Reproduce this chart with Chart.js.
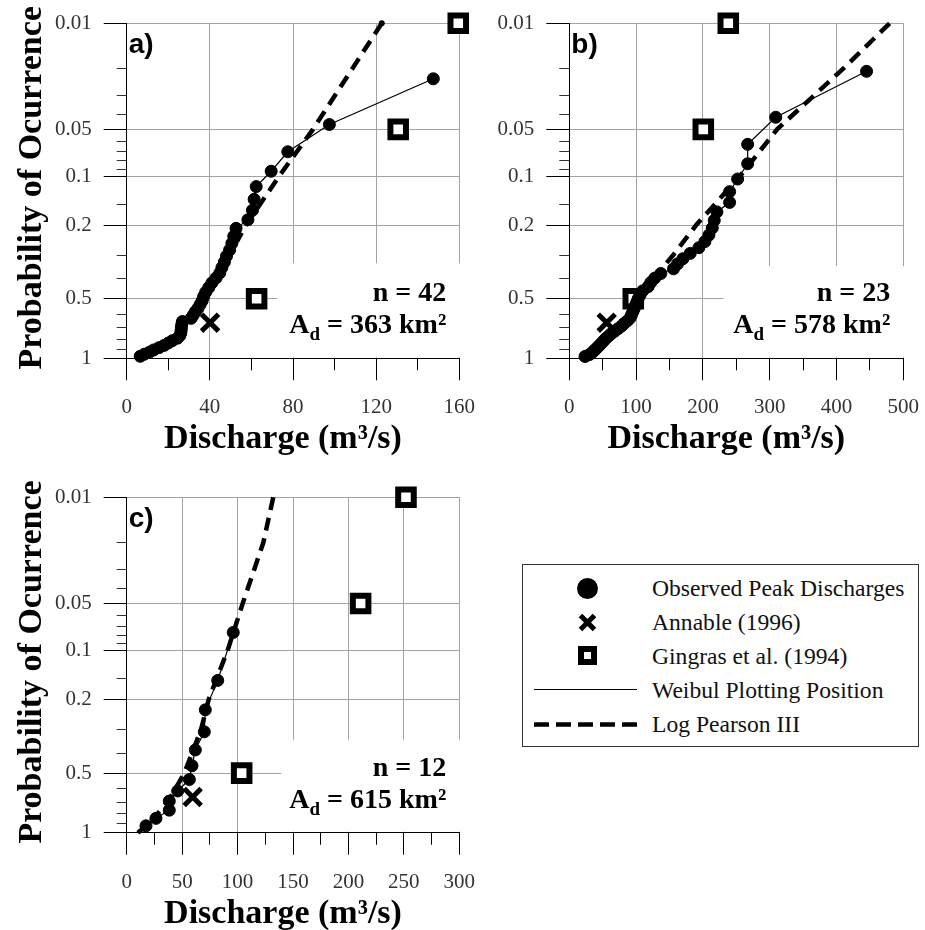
<!DOCTYPE html>
<html><head><meta charset="utf-8">
<script src="https://cdn.jsdelivr.net/npm/chart.js"></script>
<style>
html,body{margin:0;padding:0;background:#fff;}
body{width:925px;height:930px;overflow:hidden;position:relative;}
canvas{position:absolute;}
.lg{position:absolute;}
.lgt{position:absolute;left:652px;font-family:'Liberation Serif',serif;font-size:23.6px;line-height:26px;color:#111;white-space:nowrap;}
</style></head><body>
<canvas id="ca" width="490" height="460" style="left:0;top:0"></canvas>
<canvas id="cb" width="465" height="460" style="left:460px;top:0"></canvas>
<canvas id="cc" width="490" height="470" style="left:0;top:460px"></canvas>

<div class="lg" style="left:522px;top:564px;width:397px;height:183px;border:1px solid #333;box-sizing:border-box;"></div>
<div class="lg" style="left:577px;top:578px;width:21px;height:21px;border-radius:50%;background:#000;"></div>
<svg class="lg" style="left:577px;top:612px" width="21" height="21"><path d="M3.5 3.5 L17.5 17.5 M17.5 3.5 L3.5 17.5" stroke="#000" stroke-width="5" fill="none"/></svg>
<div class="lg" style="left:578px;top:646px;width:19px;height:19px;border:6px solid #000;background:#fff;box-sizing:border-box;"></div>
<div class="lg" style="left:534px;top:689px;width:103px;height:1.4px;background:#000;"></div>
<svg class="lg" style="left:534px;top:721px" width="104" height="7"><line x1="0" y1="3.5" x2="104" y2="3.5" stroke="#000" stroke-width="4.5" stroke-dasharray="15 7"/></svg>
<div class="lgt" id="lg0" style="top:575px"></div>
<div class="lgt" id="lg1" style="top:609px"></div>
<div class="lgt" id="lg2" style="top:643px"></div>
<div class="lgt" id="lg3" style="top:677px"></div>
<div class="lgt" id="lg4" style="top:711px"></div>

<script>
// ---------- data ----------
const yTickProbs = [0.01, 0.05, 0.1, 0.2, 0.5, 1];
const yTickLabels = ['0.01', '0.05', '0.1', '0.2', '0.5', '1'];
const yMinorProbs = [0.02, 0.03, 0.04, 0.06, 0.07, 0.08, 0.09, 0.15, 0.3, 0.4, 0.6, 0.7, 0.8, 0.9];

const aXMajor = [0, 40, 80, 120, 160];
const aXMinor = [20, 60, 100, 140];
const bXMajor = [0, 100, 200, 300, 400, 500];
const bXMinor = [50, 150, 250, 350, 450];
const cXMajor = [0, 50, 100, 150, 200, 250, 300];
const cXMinor = [25, 75, 125, 175, 225, 275];

// Panel a: observed peak discharges (m3/s) and Weibull plotting positions
const aObsQ = [147.5, 97.5, 77.5, 69.5, 62.3, 61.3, 60.5, 58.3, 52.6, 51.5, 50.6, 49.5, 48.0, 47.0, 45.8, 44.8, 43.0, 41.0, 39.5, 38.0, 37.0, 36.3, 35.3, 34.3, 33.0, 32.0, 31.0, 26.8, 26.5, 26.3, 26.2, 26.0, 25.6, 24.5, 22.0, 20.0, 18.0, 15.5, 13.0, 11.0, 8.5, 6.5];
const aObsP = [0.0233, 0.0465, 0.0698, 0.0930, 0.1163, 0.1395, 0.1628, 0.1860, 0.2093, 0.2326, 0.2558, 0.2791, 0.3023, 0.3256, 0.3488, 0.3721, 0.3953, 0.4186, 0.4419, 0.4651, 0.4884, 0.5116, 0.5349, 0.5581, 0.5814, 0.6047, 0.6279, 0.6512, 0.6744, 0.6977, 0.7209, 0.7442, 0.7674, 0.7907, 0.8140, 0.8372, 0.8605, 0.8837, 0.9070, 0.9302, 0.9535, 0.9767];
const aLp3Q = [122.7, 89.6, 73.3, 57.4, 53.0];
const aLp3P = [0.01, 0.05, 0.1, 0.2, 0.25];
const aGingQ = [159.5, 130.6, 62.5];
const aGingP = [0.01, 0.05, 0.5];
const aAnnQ = [40.1];
const aAnnP = [0.66];

// Panel b
const bObsQ = [445, 309, 267, 267, 252, 240, 240, 221, 217, 214, 209, 203, 194, 181, 170, 162, 156, 137, 128, 122, 118, 110, 106, 103, 101, 99, 97, 95, 93, 91, 87, 82, 78, 73, 68, 63, 59, 55, 52, 49, 46, 43, 40, 37, 34, 30, 23.5];
const bObsP = [0.0208, 0.0417, 0.0625, 0.0833, 0.1042, 0.125, 0.1458, 0.1667, 0.1875, 0.2083, 0.2292, 0.25, 0.2708, 0.2917, 0.3125, 0.3333, 0.3542, 0.375, 0.3958, 0.4167, 0.4375, 0.4583, 0.4792, 0.5, 0.5208, 0.5417, 0.5625, 0.5833, 0.6042, 0.625, 0.6458, 0.6667, 0.6875, 0.7083, 0.7292, 0.75, 0.7708, 0.7917, 0.8125, 0.8333, 0.8542, 0.875, 0.8958, 0.9167, 0.9375, 0.9583, 0.9792];
const bLp3Q = [479.5, 410, 311, 255.5, 190, 155, 100];
const bLp3P = [0.01, 0.02, 0.05, 0.1, 0.2, 0.3, 0.5];
const bGingQ = [238, 200.6, 95.8];
const bGingP = [0.01, 0.05, 0.5];
const bAnnQ = [56];
const bAnnP = [0.66];

// Panel c
const cObsQ = [96.1, 82.1, 70.9, 70.0, 61.9, 58.9, 56.5, 46.0, 38.4, 38.4, 26.4, 17.4];
const cObsP = [0.0769, 0.1538, 0.2308, 0.3077, 0.3846, 0.4615, 0.5385, 0.6154, 0.6923, 0.7692, 0.8462, 0.9231];
const cLp3Q = [132.2, 123.2, 104.6, 91, 74, 67, 52, 37, 20, 10];
const cLp3P = [0.01, 0.02, 0.05, 0.1, 0.2, 0.3, 0.5, 0.7, 0.9, 1.0];
const cGingQ = [251.9, 211, 103.7];
const cGingP = [0.01, 0.05, 0.5];
const cAnnQ = [59.5];
const cAnnP = [0.66];

const panelLetters = ['a)', 'b)', 'c)'];
const nTexts = ['n = 42', 'n = 23', 'n = 12'];
const areaTexts = [' = 363 km²', ' = 578 km²', ' = 615 km²'];
const xTitle = 'Discharge (m³/s)';
const yTitle = 'Probability of Ocurrence';
const legendLabels = ['Observed Peak Discharges', 'Annable (1996)', 'Gingras et al. (1994)', 'Weibul Plotting Position', 'Log Pearson III'];

// ---------- probability axis transform ----------
const GUMBEL_HALF = -Math.log(Math.log(2));
const LOWER_SLOPE = 3.037;
function probToAxis(p) {
  return p <= 0.5 ? -Math.log(-Math.log(1 - p)) : GUMBEL_HALF - LOWER_SLOPE * Math.log10(p / 0.5);
}
function pts(qs, ps) { return qs.map((q, i) => ({x: q, y: probToAxis(ps[i])})); }

legendLabels.forEach((t, i) => { document.getElementById('lg' + i).textContent = t; });

const SERIF = "'Liberation Serif', 'Times New Roman', serif";
const GRID = '#a3a3a3';

function annotatePlugin(cfg) {
  return {
    id: 'annot',
    beforeDatasetsDraw(chart) {
      const {ctx, chartArea: ca} = chart;
      ctx.save();
      ctx.fillStyle = '#fff';
      ctx.fillRect(ca.right - cfg.boxW, ca.bottom - cfg.boxH, cfg.boxW + 1.5, cfg.boxH - 1);
      ctx.restore();
    },
    afterDatasetsDraw(chart) {
      const {ctx, chartArea: ca} = chart;
      ctx.save();
      ctx.fillStyle = '#000';
      ctx.textBaseline = 'alphabetic';
      ctx.font = "bold 28px 'Liberation Sans', Arial, sans-serif";
      ctx.textAlign = 'left';
      ctx.fillText(cfg.letter, ca.left + 2, ca.top + 30);
      const rx = ca.right - 13;
      const big = 'bold 28px ' + SERIF, small = 'bold 19px ' + SERIF;
      ctx.font = big;
      ctx.textAlign = 'right';
      ctx.fillText(cfg.nText, rx, ca.bottom - 57);
      const wRest = ctx.measureText(cfg.areaText).width;
      const wA = ctx.measureText('A').width;
      ctx.font = small;
      const wd = ctx.measureText('d').width;
      const x0 = rx - wRest - wd - wA;
      ctx.textAlign = 'left';
      ctx.font = big; ctx.fillText('A', x0, ca.bottom - 25);
      ctx.font = small; ctx.fillText('d', x0 + wA, ca.bottom - 18);
      ctx.font = big; ctx.fillText(cfg.areaText, x0 + wA + wd, ca.bottom - 25);
      ctx.font = 'bold 34px ' + SERIF;
      ctx.textAlign = 'center';
      ctx.fillText(xTitle, (ca.left + ca.right) / 2 - 10, ca.bottom + 90);
      if (cfg.showYTitle) {
        ctx.translate(41, (ca.top + ca.bottom) / 2 - 3);
        ctx.rotate(-Math.PI / 2);
        ctx.fillText(yTitle, 0, 0);
      }
      ctx.restore();
    }
  };
}

function makePanel(id, o) {
  const yMin = probToAxis(1), yMax = probToAxis(0.01);
  const tickFont = {family: SERIF, size: 21};
  return new Chart(document.getElementById(id), {
    type: 'scatter',
    data: {datasets: [
      {data: pts(o.obsQ, o.obsP), showLine: true, borderColor: '#000', borderWidth: 1.2,
       pointRadius: 6, pointBorderWidth: 1, pointBackgroundColor: '#000', pointBorderColor: '#000', clip: false},
      {data: pts(o.gQ, o.gP), showLine: false, pointStyle: 'rect', pointRadius: 11, pointBorderWidth: 6,
       pointBackgroundColor: '#fff', pointBorderColor: '#000', clip: false},
      {data: pts(o.aQ, o.aP), showLine: false, pointStyle: 'crossRot', pointRadius: 12, pointBorderWidth: 5,
       pointBorderColor: '#000', pointBackgroundColor: '#000', clip: false},
      {data: pts(o.lQ, o.lP), showLine: true, borderColor: '#000', borderWidth: 4.5, borderDash: [13, 8],
       borderCapStyle: 'butt', pointRadius: o.lQ.map((_, i) => (o.endDot && i === 0) ? 3 : 0),
       pointBackgroundColor: '#000', pointBorderWidth: 0, clip: false}
    ]},
    options: {
      responsive: false, animation: false, devicePixelRatio: 1, events: [],
      layout: {autoPadding: false, padding: {top: o.padTop, right: o.padRight, left: 0, bottom: 0}},
      plugins: {legend: {display: false}, tooltip: {enabled: false}},
      scales: {
        x: {type: 'linear', position: 'bottom', min: o.xMajor[0], max: o.xMajor[o.xMajor.length - 1], weight: 0,
          afterBuildTicks: s => { s.ticks = o.xMajor.map(v => ({value: v})); },
          afterFit: s => { s.height = o.xHeight; s.paddingLeft = 0; s.paddingRight = 0; },
          grid: {color: GRID, lineWidth: 1, tickColor: '#000', tickLength: 22, tickWidth: 1},
          border: {display: true, color: '#000', width: 1},
          ticks: {font: tickFont, color: '#333', padding: 15, maxRotation: 0, minRotation: 0, autoSkip: false}},
        xMinor: {type: 'linear', position: 'bottom', min: o.xMajor[0], max: o.xMajor[o.xMajor.length - 1], weight: -1,
          afterBuildTicks: s => { s.ticks = o.xMinor.map(v => ({value: v})); },
          afterFit: s => { s.height = 0; s.paddingLeft = 0; s.paddingRight = 0; },
          grid: {drawOnChartArea: false, tickLength: 12, tickColor: '#000', tickWidth: 1},
          border: {display: false}, ticks: {display: false}},
        y: {type: 'linear', position: 'left', min: yMin, max: yMax, weight: 0,
          afterBuildTicks: s => { s.ticks = yTickProbs.map(p => ({value: probToAxis(p)})); },
          afterFit: s => { s.width = o.yWidth; s.paddingTop = 0; s.paddingBottom = 0; },
          grid: {color: GRID, lineWidth: 1, tickColor: '#000', tickLength: 23, tickWidth: 1},
          border: {display: true, color: '#000', width: 1},
          ticks: {font: tickFont, color: '#333', padding: 12, autoSkip: false,
            callback: (v, i) => yTickLabels[i]}},
        yMinor: {type: 'linear', position: 'left', min: yMin, max: yMax, weight: -1,
          afterBuildTicks: s => { s.ticks = yMinorProbs.map(p => ({value: probToAxis(p)})); },
          afterFit: s => { s.width = 0; s.paddingTop = 0; s.paddingBottom = 0; },
          grid: {drawOnChartArea: false, tickLength: 10, tickColor: '#333', tickWidth: 1},
          border: {display: false}, ticks: {display: false}}
      }
    },
    plugins: [annotatePlugin(o.annot)]
  });
}

makePanel('ca', {obsQ: aObsQ, obsP: aObsP, lQ: aLp3Q, lP: aLp3P, gQ: aGingQ, gP: aGingP, aQ: aAnnQ, aP: aAnnP,
  endDot: true, xMajor: aXMajor, xMinor: aXMinor, padTop: 23.3, padRight: 30.7, xHeight: 101.7, yWidth: 126.7,
  annot: {letter: panelLetters[0], nText: nTexts[0], areaText: areaTexts[0], boxW: 182, boxH: 95, showYTitle: true}});
makePanel('cb', {obsQ: bObsQ, obsP: bObsP, lQ: bLp3Q, lP: bLp3P, gQ: bGingQ, gP: bGingP, aQ: bAnnQ, aP: bAnnP,
  endDot: false, xMajor: bXMajor, xMinor: bXMinor, padTop: 23.3, padRight: 21.7, xHeight: 101.7, yWidth: 109.3,
  annot: {letter: panelLetters[1], nText: nTexts[1], areaText: areaTexts[1], boxW: 180, boxH: 92, showYTitle: false}});
makePanel('cc', {obsQ: cObsQ, obsP: cObsP, lQ: cLp3Q, lP: cLp3P, gQ: cGingQ, gP: cGingP, aQ: cAnnQ, aP: cAnnP,
  endDot: false, xMajor: cXMajor, xMinor: cXMinor, padTop: 37.3, padRight: 30.7, xHeight: 97.3, yWidth: 126.7,
  annot: {letter: panelLetters[2], nText: nTexts[2], areaText: areaTexts[2], boxW: 178, boxH: 93, showYTitle: true}});
</script>
</body></html>
